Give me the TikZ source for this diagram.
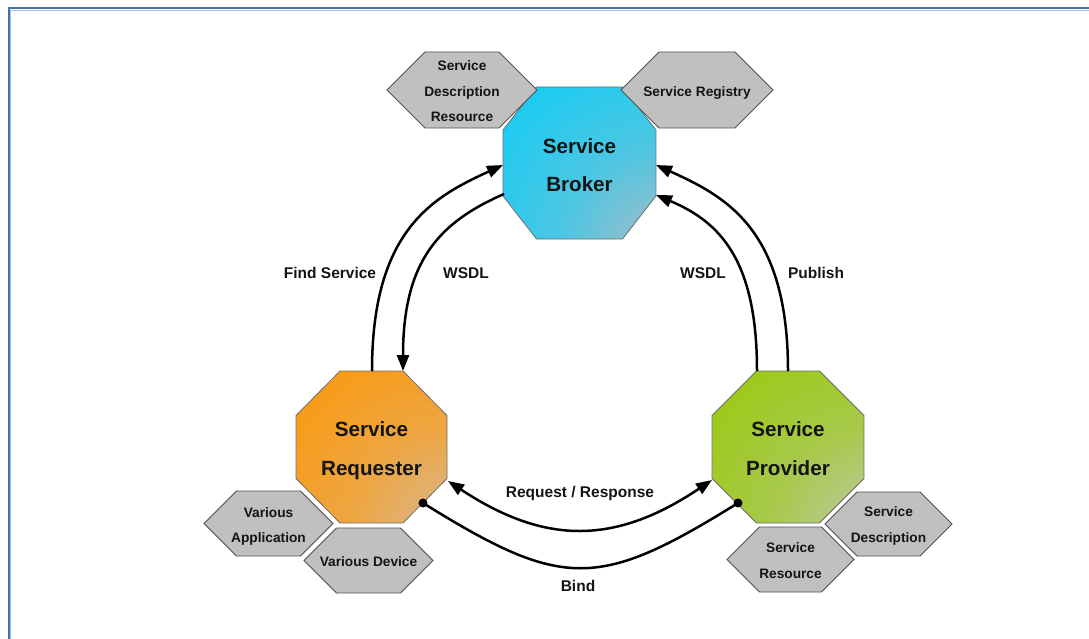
\documentclass[tikz,border=0pt]{standalone}
\usepackage{fontspec}
\setmainfont{Liberation Sans}
\usetikzlibrary{arrows.meta,calc}

\definecolor{framedark}{RGB}{70,115,165}
\definecolor{framelight}{RGB}{160,190,222}
\definecolor{bcyan}{RGB}{4,206,250}
\definecolor{bgrey}{RGB}{170,188,196}
\definecolor{rorange}{RGB}{255,150,0}
\definecolor{rtan}{RGB}{214,186,152}
\definecolor{pgreen}{RGB}{150,202,0}
\definecolor{pgrey}{RGB}{190,200,170}
\definecolor{hexfill}{RGB}{192,192,192}
\definecolor{hexline}{RGB}{80,80,80}
\definecolor{octline}{RGB}{110,110,110}

\pgfdeclareradialshading{brokershade}{\pgfpoint{38bp}{-38bp}}{color(0bp)=(bgrey); color(10bp)=(bgrey); color(34bp)=(bgrey!45!bcyan); color(70bp)=(bcyan); color(140bp)=(bcyan)}
\pgfdeclareradialshading{requestershade}{\pgfpoint{38bp}{-38bp}}{color(0bp)=(rtan); color(10bp)=(rtan); color(34bp)=(rtan!45!rorange); color(70bp)=(rorange); color(140bp)=(rorange)}
\pgfdeclareradialshading{providershade}{\pgfpoint{38bp}{-38bp}}{color(0bp)=(pgrey); color(10bp)=(pgrey); color(34bp)=(pgrey!45!pgreen); color(70bp)=(pgreen); color(140bp)=(pgreen)}

% #1 cx, #2 cy, #3 half width, #4 half height, #5 half top edge, #6 half side edge, #7 shading
\newcommand\octagonfill[7]{%
  \shade[octagonbox,shading=#7] ({#1-#5},{#2-#4}) -- ({#1+#5},{#2-#4}) -- ({#1+#3},{#2-#6}) -- ({#1+#3},{#2+#6}) -- ({#1+#5},{#2+#4}) -- ({#1-#5},{#2+#4}) -- ({#1-#3},{#2+#6}) -- ({#1-#3},{#2-#6}) -- cycle;}
% #1 cx, #2 cy, #3 half width, #4 half height
\newcommand\hexagonfill[4]{%
  \draw[hexagonbox] ({#1-#3},{#2}) -- ({#1-#3+#4},{#2-#4}) -- ({#1+#3-#4},{#2-#4}) -- ({#1+#3},{#2}) -- ({#1+#3-#4},{#2+#4}) -- ({#1-#3+#4},{#2+#4}) -- cycle;}

\tikzset{
  octagonbox/.style={draw=octline, line width=0.8pt},
  hexagonbox/.style={draw=hexline, fill=hexfill, line width=0.8pt},
  octtext/.style={align=center, font=\bfseries\fontsize{20.6}{38.5}\selectfont, text=black!92, inner sep=0pt},
  hextext/.style={align=center, font=\bfseries\fontsize{13.7}{25.5}\selectfont, text=black!92, inner sep=0pt},
  lbl/.style={font=\bfseries\fontsize{15.5}{18}\selectfont, text=black!92, anchor=base, inner sep=0pt},
  flow/.style={line width=2.5pt, -{Triangle[length=16pt,width=12pt]}},
  twoway/.style={line width=2.5pt, {Triangle[length=16pt,width=12pt]}-{Triangle[length=16pt,width=12pt]}},
  plainflow/.style={line width=2.5pt},
  enddot/.style={fill=black}
}

\begin{document}
\begin{tikzpicture}[x=1pt,y=-1pt]
\useasboundingbox (0,0) rectangle (1089,639);
% frame
\draw[framedark, line width=2pt] (8.5,645) -- (8.5,8.5) -- (1095,8.5);
\draw[framelight, line width=0.7pt] (10.3,645) -- (10.3,10.3) -- (1095,10.3);

% octagons
\octagonfill{579.5}{163}{76.5}{76}{43}{33}{brokershade}
\octagonfill{371.5}{447}{75.5}{76}{31.5}{31.5}{requestershade}
\octagonfill{788}{447}{76}{76}{31.5}{31.5}{providershade}

% hexagons
\hexagonfill{462}{90}{75}{38}
\hexagonfill{697}{90}{76}{38}
\hexagonfill{268.5}{523.5}{64.5}{32.5}
\hexagonfill{368.5}{560.5}{64.5}{32.5}
\hexagonfill{888.5}{524}{63.5}{32}
\hexagonfill{790.5}{559.5}{63.5}{32.5}

% octagon texts
\node[octtext] (B) at (579.5,165) {Service\\Broker};
\node[octtext] (R) at (371.5,450.5) {Service\\Requester};
\node[octtext] (P) at (788,448.7) {Service\\Provider};

% hexagon texts
\node[hextext] (sdr) at (462,91.5) {Service\\Description\\Resource};
\node[hextext, anchor=base] (sreg) at (697,96.5) {Service Registry};
\node[hextext] (vapp) at (268.5,526.5) {Various\\Application};
\node[hextext, anchor=base] (vdev) at (368.5,566.5) {Various Device};
\node[hextext] (sdesc) at (888.5,526) {Service\\Description};
\node[hextext] (sres) at (790.5,560.5) {Service\\Resource};

% connector end points on the octagon outlines
\coordinate (Rtop) at (372,371);
\coordinate (Rtopright) at (403,371);
\coordinate (Ptop) at (788,371);
\coordinate (Ptopleft) at (757,371);
\coordinate (Bwest) at (503,165);
\coordinate (Bsouthwest) at (504,194);
\coordinate (Beast) at (656,165);
\coordinate (Bsoutheast) at (656,195);
\coordinate (Reast) at (448,481);
\coordinate (Pwest) at (712,480);
\coordinate (Rbind) at (423,503);
\coordinate (Pbind) at (738,503);

% connectors
\draw[flow] (Rtop) .. controls (372,230) and (433,197) .. (Bwest);
\draw[flow] (Bsouthwest) .. controls (440,222) and (403,260) .. (Rtopright);
\draw[flow] (Ptop) .. controls (788,230) and (727,197) .. (Beast);
\draw[flow] (Ptopleft) .. controls (757,260) and (720,222) .. (Bsoutheast);
\draw[twoway] (Reast) .. controls (545,545) and (615,545) .. (Pwest);
\draw[plainflow] (Rbind) .. controls (563,590) and (598,590) .. (Pbind);
\fill[enddot] (Rbind) circle (4.5);
\fill[enddot] (Pbind) circle (4.5);

% labels
\node[lbl] (lfind) at (330,278) {Find Service};
\node[lbl] (lwsdl1) at (466,278.5) {WSDL};
\node[lbl] (lwsdl2) at (703,278.5) {WSDL};
\node[lbl] (lpub) at (816,278.5) {Publish};
\node[lbl] (lreq) at (580,497.7) {Request / Response};
\node[lbl] (lbind) at (578,591.5) {Bind};
\end{tikzpicture}
\end{document}
